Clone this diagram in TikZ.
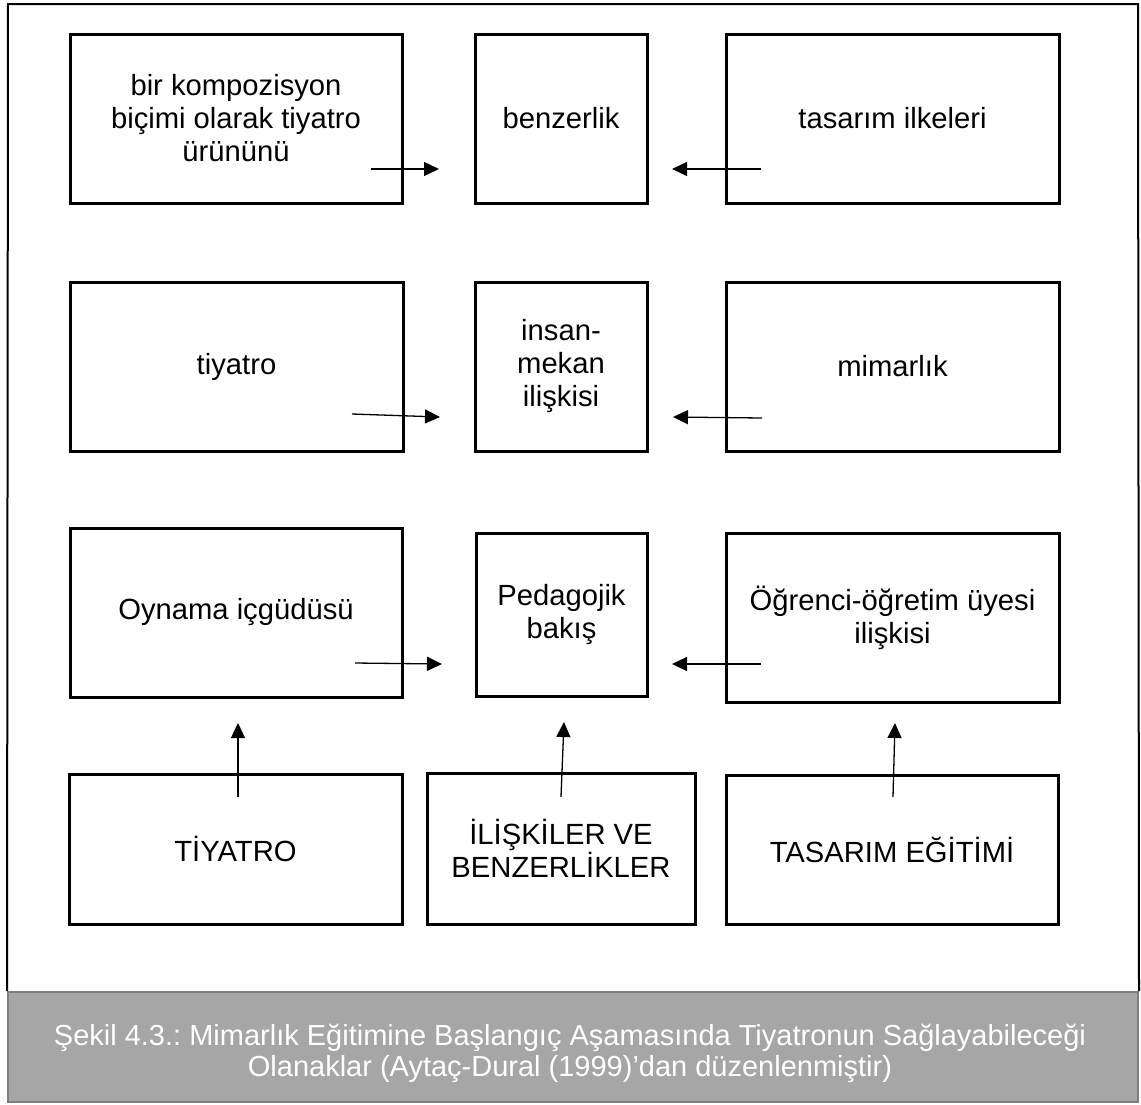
\documentclass[tikz,border=0pt]{standalone}
\usepackage{fontspec}
\setmainfont{Liberation Sans}
\usetikzlibrary{arrows.meta}
\definecolor{bandfill}{HTML}{A6A6A6}
\definecolor{bandline}{HTML}{7F7F7F}
\frenchspacing
\begin{document}
\begin{tikzpicture}[x=0.5pt,y=-0.5pt,
  box/.style={draw=black, line width=1.5pt, rectangle, inner sep=0pt,
    align=center, font=\fontsize{14.6pt}{16.5pt}\selectfont},
  link/.style={line width=0.65pt, -{Triangle[length=7.5pt,width=7pt]}},
  frame/.style={line width=1pt, draw=black},
  band/.style={draw=bandline, fill=bandfill, line width=1pt, inner sep=0pt},
  captext/.style={text=white, align=center, inner sep=0pt,
    font=\fontsize{14.5pt}{15.5pt}\selectfont}]
\useasboundingbox (0,0) rectangle (1141,1104);
\fill[white] (0,0) rectangle (1141,1104);

% caption band at the foot of the frame
\node[band, minimum width=565pt, minimum height=55pt] (cap) at (573,1047) {};
\node[captext] (captxt) at (570,1053)
  {Şekil 4.3.: Mimarlık Eğitimine Başlangıç Aşamasında Tiyatronun Sağlayabileceği\\
   Olanaklar (Aytaç-Dural (1999)’dan düzenlenmiştir)};

% outer frame
\coordinate (tl) at (8,4);
\coordinate (tr) at (1138,4);
\draw[frame] (cap.north west) -- (tl) -- (tr) -- (cap.north east);

% row 1
\node[box, minimum width=166pt, minimum height=84.5pt] (komp) at (236,118.5)
  {bir kompozisyon\\biçimi olarak tiyatro\\ürününü};
\node[box, minimum width=86pt, minimum height=84.5pt] (benz) at (561,118.5)
  {benzerlik};
\node[box, minimum width=166.5pt, minimum height=84.5pt] (ilke) at (892.5,118.5)
  {tasarım ilkeleri};

% row 2
\node[box, minimum width=166.5pt, minimum height=84.5pt] (tiy) at (236.5,366.5)
  {tiyatro};
\node[box, minimum width=86pt, minimum height=84.5pt] (insan) at (561,366.5)
  {insan-\\mekan\\ilişkisi};
\node[box, minimum width=166.5pt, minimum height=84.5pt] (mim) at (892.5,366.5)
  {mimarlık};

% row 3
\node[box, minimum width=166pt, minimum height=84.5pt] (oyn) at (236,612.5)
  {Oynama içgüdüsü};
\node[box, minimum width=85.5pt, minimum height=81.5pt] (ped) at (561.5,614.5)
  {Pedagojik\\bakış};
\node[box, minimum width=166.5pt, minimum height=84.5pt] (ogr) at (892.5,617.5)
  {Öğrenci-öğretim üyesi\\ilişkisi};

% row 4
\node[box, minimum width=166.5pt, minimum height=75pt] (TIY) at (235.5,849)
  {TİYATRO};
\node[box, minimum width=134pt, minimum height=75.5pt] (ILS) at (561,848.5)
  {İLİŞKİLER VE\\BENZERLİKLER};
\node[box, minimum width=166pt, minimum height=74.5pt] (TAS) at (892,849.5)
  {TASARIM EĞİTİMİ};

% arrow ends
\coordinate (r1a) at (371,169);  \coordinate (r1b) at (439,169);
\coordinate (r1c) at (761,169);  \coordinate (r1d) at (672,169);
\coordinate (r2a) at (352,414);  \coordinate (r2b) at (440,417);
\coordinate (r2c) at (762,418);  \coordinate (r2d) at (673,417);
\coordinate (r3a) at (355,663);  \coordinate (r3b) at (442,664);
\coordinate (r3c) at (761,664);  \coordinate (r3d) at (672,664);
\coordinate (u1a) at (238,797);  \coordinate (u1b) at (238,723);
\coordinate (u2a) at (561,797);  \coordinate (u2b) at (564,722);
\coordinate (u3a) at (893,797);  \coordinate (u3b) at (895,723);

\draw[link] (r1a) -- (r1b);
\draw[link] (r1c) -- (r1d);
\draw[link] (r2a) -- (r2b);
\draw[link] (r2c) -- (r2d);
\draw[link] (r3a) -- (r3b);
\draw[link] (r3c) -- (r3d);
\draw[link] (u1a) -- (u1b);
\draw[link] (u2a) -- (u2b);
\draw[link] (u3a) -- (u3b);
\end{tikzpicture}
\end{document}
